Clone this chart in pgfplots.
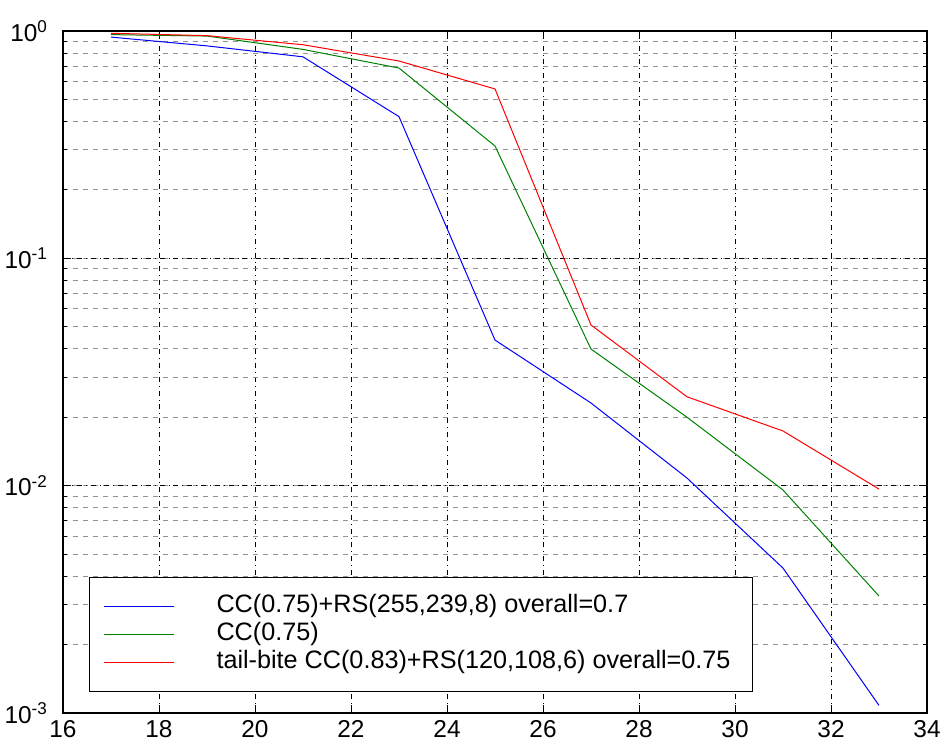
\documentclass[border=0pt]{standalone}
\usepackage{fontspec}
\setmainfont{Liberation Sans}
\usepackage{pgfplots}
\pgfplotsset{compat=1.18}

\pgfplotstableread{
x y
17 0.94
19 0.86
21 0.77
23 0.42
25 0.0437
27 0.0231
29 0.0108
31 0.00434
33 0.00108
}\blueser
\pgfplotstableread{
x y
17 0.964
19 0.95
21 0.83
23 0.687
25 0.312
27 0.0399
29 0.0200
31 0.00957
33 0.00327
}\greenser
\pgfplotstableread{
x y
17 0.977
19 0.954
21 0.87
23 0.738
25 0.556
27 0.0509
29 0.0246
31 0.0174
33 0.00966
}\redser

\begin{document}
\begin{tikzpicture}
\useasboundingbox (-31.5pt,-17.5pt) rectangle (442pt,356.5pt);
\begin{axis}[at={(0,0)},anchor=south west,
    scale only axis,width=432pt,height=341pt,
    ymode=log,xmin=16,xmax=34,ymin=1e-3,ymax=1,
    xtick={16,18,...,34},
    ytick={1e-3,1e-2,1e-1,1},
    yticklabels={10\textsuperscript{-3},10\textsuperscript{-2},10\textsuperscript{-1},10\textsuperscript{0}},
    yticklabel style={xshift=-4pt},
    /pgf/number format/assume math mode=true,
    tick label style={font=\fontsize{12.2}{14}\selectfont},
    axis line style={line width=0.6pt},
    major tick length=4pt,minor tick length=2pt,
    tick style={black,line width=0.5pt},
    xmajorgrids,ymajorgrids,yminorgrids,
    major grid style={black,line width=0.4pt,dash pattern=on 2.5pt off 2pt on 0.4pt off 2pt},
    minor grid style={gray!85,line width=0.4pt,dash pattern=on 2.5pt off 2.5pt},
    legend image code/.code={\draw[#1] (0pt,0pt) -- (35pt,0pt);},
    legend cell align=left,
    legend style={at={(0.030,0.031)},anchor=south west,draw=black,line width=0.6pt,
        fill=white,font=\fontsize{12.6}{14}\selectfont,
        inner xsep=7pt,inner ysep=7.5pt,row sep=0pt,
        nodes={inner xsep=4pt,inner ysep=1pt,text height=9pt,text depth=3pt},
        /tikz/every odd column/.append style={column sep=17pt}},
  ]
\addplot[blue,line width=0.5pt] table[x=x,y=y] {\blueser};
\addlegendentry{CC(0.75)+RS(255,239,8) overall=0.7}
\addplot[green!50!black,line width=0.5pt] table[x=x,y=y] {\greenser};
\addlegendentry{CC(0.75)}
\addplot[red,line width=0.5pt] table[x=x,y=y] {\redser};
\addlegendentry{tail-bite CC(0.83)+RS(120,108,6) overall=0.75}
\end{axis}
\end{tikzpicture}
\end{document}
